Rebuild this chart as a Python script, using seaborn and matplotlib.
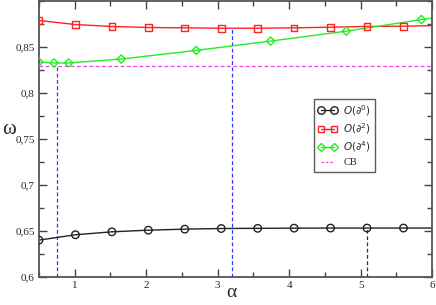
import numpy as np
import pandas as pd
import matplotlib
matplotlib.use("Agg")
import matplotlib.pyplot as plt
import seaborn as sns
from matplotlib.ticker import MultipleLocator, FuncFormatter

# ---- data ----
x_o0 = [0.5, 1.01, 1.52, 2.03, 2.54, 3.05, 3.56, 4.07, 4.58, 5.09, 5.6, 6.0]
y_o0 = [0.6397, 0.6455, 0.6487, 0.6505, 0.6516, 0.6523, 0.6525, 0.6527, 0.6528, 0.6528, 0.6528, 0.6528]
mark_o0 = [True] * 11 + [False]

x_o2 = [0.5, 1.01, 1.52, 2.03, 2.54, 3.05, 3.56, 4.07, 4.58, 5.09, 5.6, 6.0]
y_o2 = [0.8784, 0.8740, 0.8719, 0.8708, 0.8704, 0.8700, 0.8700, 0.8704, 0.8711, 0.8719, 0.8722, 0.8728]
mark_o2 = [True] * 11 + [False]

x_o4 = [0.5, 0.71, 0.915, 1.65, 2.70, 3.74, 4.80, 5.85, 6.0]
y_o4 = [0.8333, 0.8322, 0.8322, 0.8365, 0.8459, 0.8560, 0.8668, 0.8794, 0.8810]
mark_o4 = [True] * 8 + [False]

cb_value = 0.8293
vline_x = [0.75, 3.20, 5.09]
vline_top = [0.8293, 0.8700, 0.6528]

labels = [r"$O(\partial^0)$", r"$O(\partial^2)$", r"$O(\partial^4)$", "CB"]
xticks = [1, 2, 3, 4, 5, 6]
yticks = [0.6, 0.65, 0.7, 0.75, 0.8, 0.85]

# ---- plot ----
sns.set_theme(style="ticks")
plt.rcParams["font.family"] = ["Liberation Serif", "DejaVu Serif"]
plt.rcParams["mathtext.fontset"] = "dejavusans"

fig = plt.figure(figsize=(4.36, 3.05), dpi=100)
ax = fig.add_axes([0.0894, 0.093, 0.9016, 0.905])

ylim = (0.6, 0.9)
xlim = (0.5, 6.0)

# vertical dashed guides
vcolors = ["#3333ff", "#3333ff", "#333333"]
for xv, yt, c in zip(vline_x, vline_top, vcolors):
    ax.plot([xv, xv], [ylim[0], yt], ls=(0, (3, 2)), color=c, lw=0.9, zorder=1)

msizes = {"o": 5.4, "s": 4.8, "D": 4.2}
series = [
    (x_o0, y_o0, mark_o0, "#222222", "o", labels[0]),
    (x_o2, y_o2, mark_o2, "#ff2020", "s", labels[1]),
    (x_o4, y_o4, mark_o4, "#22ee22", "D", labels[2]),
]
handles = []
for xs, ys, mk, col, m, lab in series:
    df = pd.DataFrame({"x": xs, "y": ys})
    sns.lineplot(data=df, x="x", y="y", ax=ax, color=col, lw=1.0, sort=False, zorder=2)
    dm = df[mk]
    sns.scatterplot(data=dm, x="x", y="y", ax=ax, marker=m, s=msizes[m] ** 2,
                    facecolor="none", edgecolor=col, linewidth=1.0, zorder=3)
    h, = ax.plot([], [], color=col, lw=1.0, marker=m, mfc="none", mec=col,
                 ms=msizes[m], label=lab)
    handles.append(h)

ax.axhline(cb_value, xmin=0, xmax=1, color="#ee44ee", ls=(0, (3, 2)), lw=0.9, zorder=1)
h, = ax.plot([], [], color="#ee44ee", ls=(0, (2, 1.5)), lw=0.9, label=labels[3])
handles.append(h)

ax.set_xlim(*xlim)
ax.set_ylim(*ylim)
ax.set_xticks(xticks)
ax.set_yticks(yticks)
ax.xaxis.set_minor_locator(MultipleLocator(0.5))
ax.yaxis.set_minor_locator(MultipleLocator(0.025))
ax.yaxis.set_major_formatter(FuncFormatter(lambda v, p: f"{v:g}".replace(".", ",")))
ax.tick_params(which="both", direction="in", top=True, right=True, labelsize=8,
               color="#444444", pad=3)
ax.tick_params(which="major", length=6, width=1.0)
ax.tick_params(which="minor", length=3.5, width=1.0)
for s in ax.spines.values():
    s.set_linewidth(1.3)
    s.set_color("#555555")

ax.set_xlabel("α", fontsize=14)
ax.xaxis.set_label_coords(0.49, -0.072, transform=ax.transAxes)
ax.xaxis.label.set_va("baseline")
ax.set_ylabel("ω", fontsize=15, rotation=0, labelpad=0)
ax.yaxis.set_label_coords(-0.075, 0.5)

leg = ax.legend(handles=handles, loc="upper left", bbox_to_anchor=(0.70, 0.645),
                fontsize=7.5, frameon=True, fancybox=False, edgecolor="#333333",
                numpoints=2, handlelength=1.8, borderpad=0.4, labelspacing=0.35,
                handletextpad=0.6, borderaxespad=0)
leg.get_frame().set_linewidth(1.0)

fig.savefig("out.png", dpi=100)
